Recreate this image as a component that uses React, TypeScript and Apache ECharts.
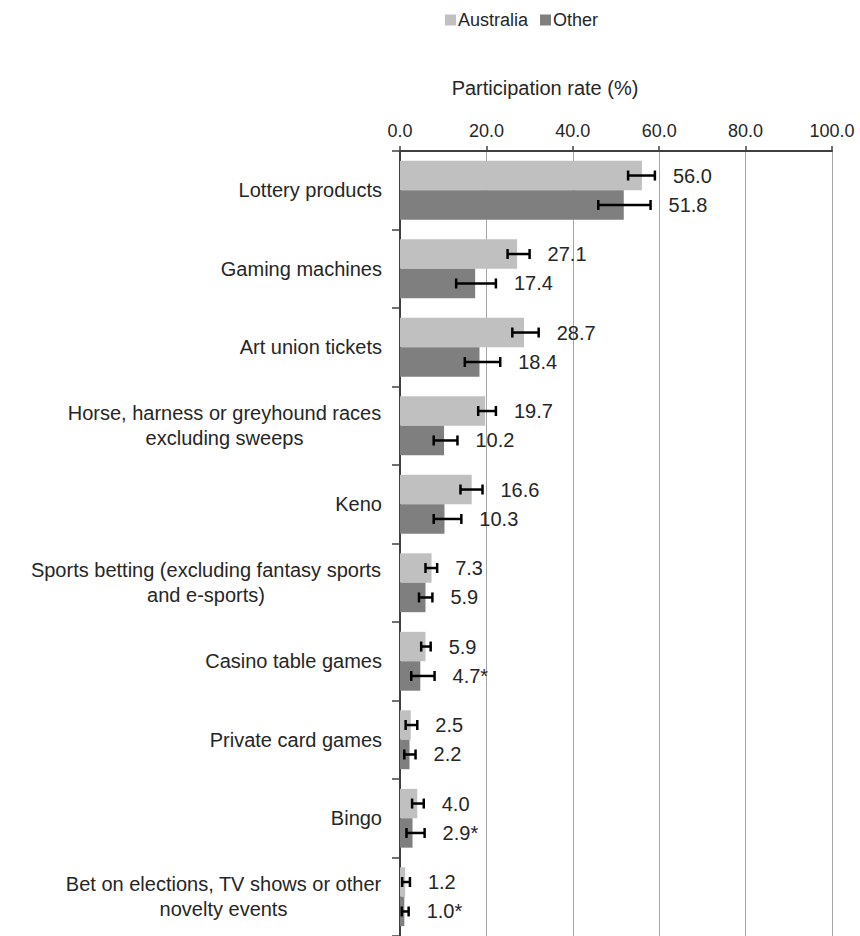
import React, { useEffect, useRef } from "react";
import * as echarts from "echarts";

const categories = [
  "Lottery products",
  "Gaming machines",
  "Art union tickets",
  "Horse, harness or greyhound races\nexcluding sweeps",
  "Keno",
  "Sports betting (excluding fantasy sports\nand e-sports)",
  "Casino table games",
  "Private card games",
  "Bingo",
  "Bet on elections, TV shows or other\nnovelty events",
];
const xTicks = [0, 20, 40, 60, 80, 100];
const australia = [56.0, 27.1, 28.7, 19.7, 16.6, 7.3, 5.9, 2.5, 4.0, 1.2];
const other = [51.8, 17.4, 18.4, 10.2, 10.3, 5.9, 4.7, 2.2, 2.9, 1.0];
const ausLow = [52.8, 24.9, 26.0, 18.1, 14.0, 5.9, 4.9, 1.3, 2.8, 0.5];
const ausHigh = [59.0, 30.0, 32.1, 22.2, 19.1, 8.6, 7.1, 4.0, 5.5, 2.3];
const otherLow = [45.9, 13.0, 15.0, 7.8, 7.8, 4.4, 2.6, 1.0, 1.5, 0.4];
const otherHigh = [58.0, 22.2, 23.2, 13.3, 14.2, 7.5, 8.0, 3.6, 5.7, 2.0];
const ausLabels = ["56.0", "27.1", "28.7", "19.7", "16.6", "7.3", "5.9", "2.5", "4.0", "1.2"];
const otherLabels = ["51.8", "17.4", "18.4", "10.2", "10.3", "5.9", "4.7*", "2.2", "2.9*", "1.0*"];

const FONT = '"Liberation Sans", Arial, sans-serif';
const CAT_FONT_SIZE = 20;

function measure(text: string, size: number): number {
  const c = document.createElement("canvas").getContext("2d");
  if (!c) return text.length * size * 0.5;
  c.font = `${size}px "Liberation Sans", Arial, sans-serif`;
  return c.measureText(text).width;
}

export default function App() {
  const ref = useRef<HTMLDivElement>(null);
  useEffect(() => {
    if (!ref.current) return;
    const chart = echarts.init(ref.current, undefined, { renderer: "svg" });

    const rich: Record<string, any> = {};
    categories.forEach((c, i) => {
      if (c.includes("\n")) {
        const w = Math.max(...c.split("\n").map((l) => measure(l, CAT_FONT_SIZE)));
        rich["m" + i] = {
          width: Math.ceil(w) + 1,
          align: "center",
          fontSize: CAT_FONT_SIZE,
          fontFamily: FONT,
          color: "#262626",
          lineHeight: 25,
        };
      }
    });

    const makeErr = (
      name: string,
      low: number[],
      high: number[],
      labels: string[],
      sign: number
    ) => ({
      type: "custom",
      name,
      z: 5,
      silent: true,
      encode: { x: [1, 2], y: 0 },
      data: low.map((l, i) => [i, l, high[i], labels[i]]),
      renderItem: (params: any, api: any) => {
        const idx = api.value(0);
        const lo = api.coord([api.value(1), idx]);
        const hi = api.coord([api.value(2), idx]);
        const band = api.size([0, 1])[1];
        const barW = (band * 0.75) / 2;
        const y = lo[1] + (sign * barW) / 2;
        const capH = 5;
        const st = { stroke: "#000000", lineWidth: 2.5 };
        return {
          type: "group",
          children: [
            { type: "line", shape: { x1: lo[0], y1: y, x2: hi[0], y2: y }, style: st },
            { type: "line", shape: { x1: lo[0], y1: y - capH, x2: lo[0], y2: y + capH }, style: st },
            { type: "line", shape: { x1: hi[0], y1: y - capH, x2: hi[0], y2: y + capH }, style: st },
            {
              type: "text",
              style: {
                text: labels[idx],
                x: hi[0] + 18,
                y: y,
                fontSize: 20,
                fontFamily: FONT,
                fill: "#262626",
                align: "left",
                verticalAlign: "middle",
              },
            },
          ],
        };
      },
    });

    chart.setOption({
      animation: false,
      backgroundColor: "#ffffff",
      textStyle: { fontFamily: FONT },
      title: {
        text: "Participation rate (%)",
        left: 540,
        top: 73,
        textAlign: "center",
        textStyle: { fontSize: 20, fontWeight: "normal", color: "#262626", fontFamily: FONT },
      },
      legend: {
        data: ["Australia", "Other"],
        top: 6,
        left: 440,
        icon: "rect",
        itemWidth: 11,
        itemHeight: 11,
        itemGap: 12,
        textStyle: { fontSize: 18, color: "#262626", fontFamily: FONT, padding: [0, 0, 0, -3] },
      },
      grid: { left: 400, right: 28, top: 151, bottom: 0, containLabel: false },
      xAxis: {
        type: "value",
        position: "top",
        min: xTicks[0],
        max: xTicks[xTicks.length - 1],
        interval: 20,
        axisLine: { show: true, lineStyle: { color: "#404040", width: 2 } },
        axisTick: { show: true, length: 5, lineStyle: { color: "#404040", width: 1.5 } },
        axisLabel: {
          margin: 11,
          fontSize: 18,
          color: "#262626",
          fontFamily: FONT,
          formatter: (v: number) => v.toFixed(1),
        },
        splitLine: { show: true, lineStyle: { color: "#a6a6a6", width: 1 } },
      },
      yAxis: {
        type: "category",
        inverse: true,
        data: categories,
        axisLine: { show: true, lineStyle: { color: "#404040", width: 2 } },
        axisTick: { show: true, length: 8, lineStyle: { color: "#404040", width: 1.5 } },
        axisLabel: {
          margin: 18,
          fontSize: CAT_FONT_SIZE,
          color: "#262626",
          fontFamily: FONT,
          lineHeight: 25,
          align: "right",
          rich,
          formatter: (value: string, index: number) => {
            if (value.includes("\n")) {
              return value
                .split("\n")
                .map((l) => `{m${index}|${l}}`)
                .join("\n");
            }
            return value;
          },
        },
      },
      series: [
        {
          type: "bar",
          name: "Australia",
          data: australia,
          barGap: "0%",
          barCategoryGap: "25%",
          itemStyle: { color: "#c0c0c0" },
        },
        {
          type: "bar",
          name: "Other",
          data: other,
          barGap: "0%",
          barCategoryGap: "25%",
          itemStyle: { color: "#7f7f7f" },
        },
        makeErr("errAus", ausLow, ausHigh, ausLabels, -1),
        makeErr("errOther", otherLow, otherHigh, otherLabels, 1),
      ],
    });
    return () => chart.dispose();
  }, []);
  return (
    <div
      ref={ref}
      style={{ position: "fixed", left: 0, top: 0, width: 860, height: 936, background: "#fff" }}
    />
  );
}
